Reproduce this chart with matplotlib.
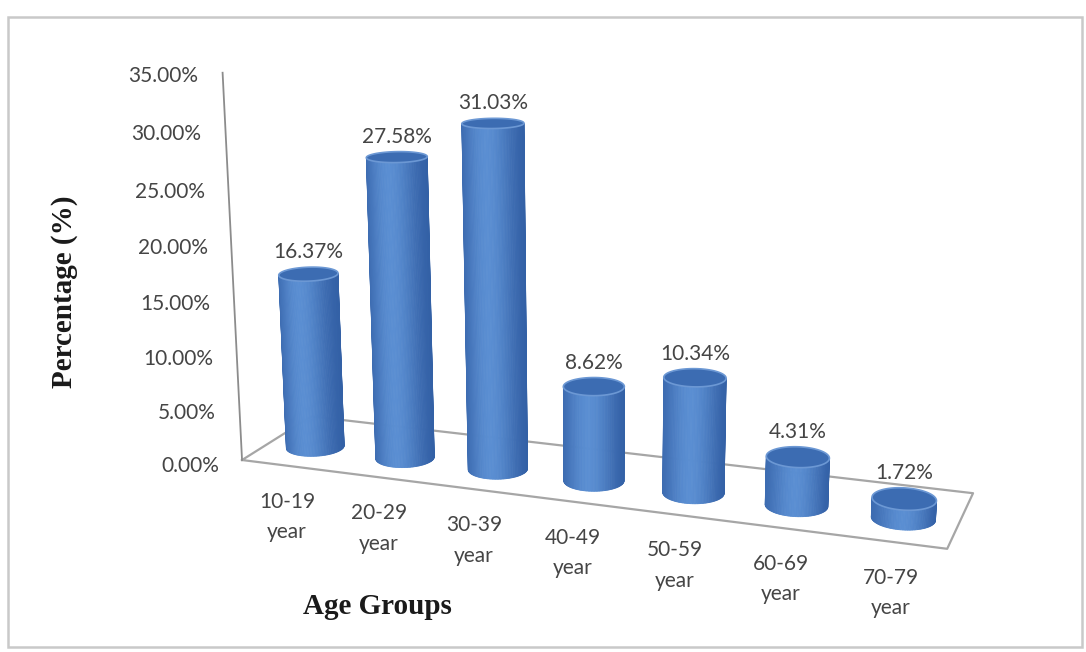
import numpy as np
import matplotlib
matplotlib.use("Agg")
import matplotlib.pyplot as plt
from matplotlib.patches import Polygon, Rectangle

# data
groups = ["10-19\nyear", "20-29\nyear", "30-39\nyear", "40-49\nyear",
          "50-59\nyear", "60-69\nyear", "70-79\nyear"]
percent = [16.37, 27.58, 31.03, 8.62, 10.34, 4.31, 1.72]
ticks = [0, 5, 10, 15, 20, 25, 30, 35]

# camera of the 3D view (yaw / pitch / focal length, pixel space)
yaw, pitch = np.radians(19.4), np.radians(14.7)
focal = 1912.0
cx, cy = 600.0, 300.0
cam_t = np.array([-3.559, 1.591, 19.01])

x_cam = [np.cos(yaw), np.sin(yaw) * np.sin(pitch), -np.sin(yaw) * np.cos(pitch)]
y_cam = [np.sin(yaw), -np.cos(yaw) * np.sin(pitch), np.cos(yaw) * np.cos(pitch)]
z_cam = [0.0, -np.cos(pitch), -np.sin(pitch)]
R = np.column_stack([x_cam, y_cam, z_cam])
cam_pos = -R.T @ cam_t
right_vec = R[0, :2] / np.linalg.norm(R[0, :2])

n_cat = len(percent)
floor_depth = 1.47
bar_depth = 0.6
radius = 0.29
zscale = 0.1103  # world units per percent


def to_screen(x, y, z):
    x, y, z = np.broadcast_arrays(np.asarray(x, float), np.asarray(y, float), np.asarray(z, float))
    p = np.vstack([x.ravel(), y.ravel(), z.ravel()])
    pc = R @ p + cam_t[:, None]
    sx = cx + focal * pc[0] / pc[2]
    sy = cy + focal * pc[1] / pc[2]
    return sx.reshape(x.shape), sy.reshape(x.shape)


W, H = 1086, 652
fig = plt.figure(figsize=(W / 100, H / 100), dpi=100)
ax = fig.add_axes([0, 0, 1, 1])
ax.set_xlim(0, W)
ax.set_ylim(H, 0)
ax.axis("off")

# chart border
ax.add_patch(Rectangle((8, 17), 1074, 630, fill=False, ec="#c9c9c9", lw=1.8))

# floor outline
fx, fy = to_screen([0, n_cat, n_cat, 0, 0], [0, 0, floor_depth, floor_depth, 0], 0)
ax.plot(fx, fy, color="#a6a6a6", lw=1.6, zorder=1)

# vertical axis
ax_x, ax_y = to_screen(0, 0, [0, ticks[-1] * zscale])
ax.plot(ax_x, ax_y, color="#8c8c8c", lw=1.3, zorder=1)

# tick labels
font = "Lato"
txt_col = "#454545"
for v in ticks:
    lx, ly = to_screen(0, -0.2, v * zscale)
    ax.text(lx - 13, ly, f"{v:.2f}%", ha="right", va="center",
            fontsize=15, family=font, color=txt_col)

# cylinders
dark = np.array([44, 88, 158]) / 255
light = np.array([90, 142, 210]) / 255
cap_col = np.array([60, 108, 178]) / 255
rim_col = np.array([108, 152, 212]) / 255
ang = np.linspace(0, 2 * np.pi, 121)

for i, v in enumerate(percent):
    xc = i + 0.5
    h = v * zscale
    rx = xc + radius * np.cos(ang)
    ry = bar_depth + radius * np.sin(ang)
    bx, by = to_screen(rx, ry, 0)
    tx, ty = to_screen(rx, ry, h)
    for j in range(len(ang) - 1):
        am = 0.5 * (ang[j] + ang[j + 1])
        nrm = np.array([np.cos(am), np.sin(am)])
        px, py = xc + radius * nrm[0], bar_depth + radius * nrm[1]
        view = cam_pos[:2] - np.array([px, py])
        if nrm @ view <= 0:
            continue
        s = nrm @ right_vec
        t = np.exp(-((s + 0.15) / 0.85) ** 2)
        col = dark + (light - dark) * t
        quad = [(bx[j], by[j]), (bx[j + 1], by[j + 1]), (tx[j + 1], ty[j + 1]), (tx[j], ty[j])]
        ax.add_patch(Polygon(quad, closed=True, fc=col, ec=col, lw=0.6, zorder=2))
    ax.add_patch(Polygon(np.column_stack([tx, ty]), closed=True, fc=cap_col,
                         ec=rim_col, lw=1.2, zorder=3))
    ax.text(np.mean(tx), ty.min() - 9, f"{v:.2f}%", ha="center", va="baseline",
            fontsize=15, family=font, color=txt_col, zorder=4)

# category labels
for i, g in enumerate(groups):
    gx, gy = to_screen(i + 0.5, 0, 0)
    ax.text(gx, gy + 26, g, ha="center", va="top", multialignment="center",
            fontsize=15, family=font, color=txt_col, linespacing=1.65)

# axis titles
ax.text(65, 292, "Percentage (%)", rotation=90, ha="center", va="center",
        fontsize=21, family="Liberation Serif", fontweight="bold", color="#1a1a1a")
ax.text(377, 607, "Age Groups", ha="center", va="center",
        fontsize=21, family="Liberation Serif", fontweight="bold", color="#1a1a1a")

fig.savefig("out.png", dpi=100)
